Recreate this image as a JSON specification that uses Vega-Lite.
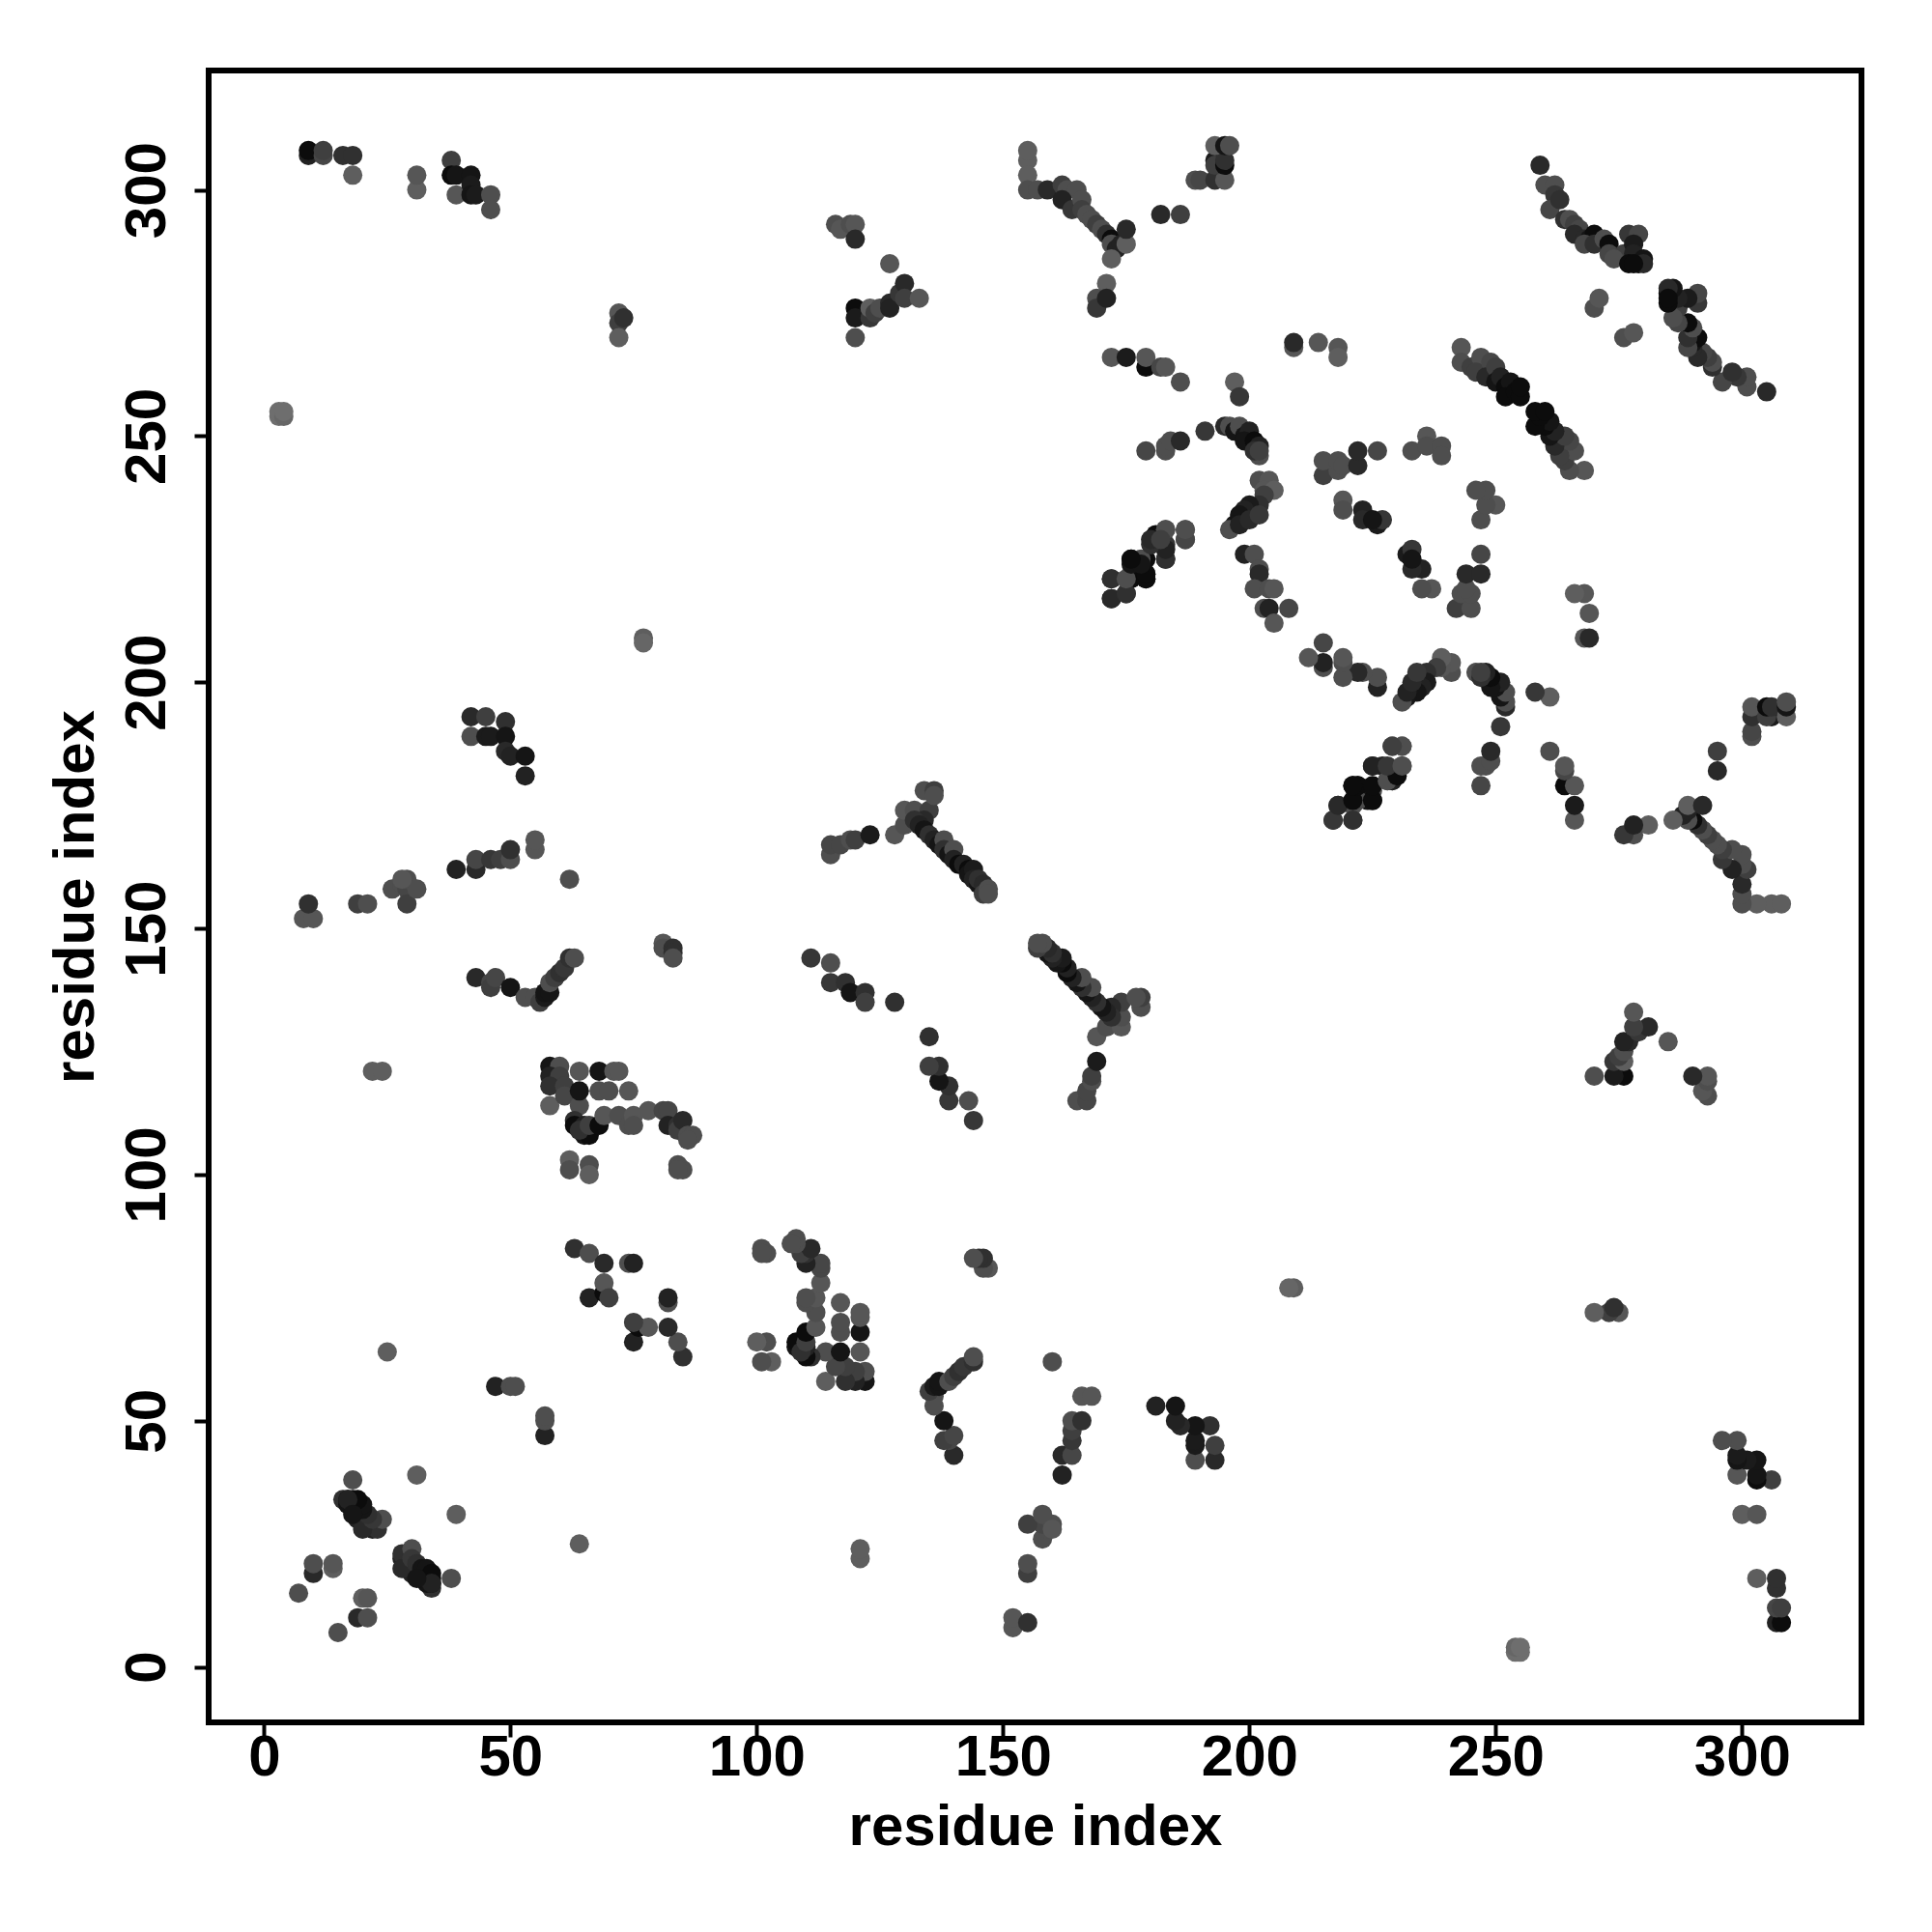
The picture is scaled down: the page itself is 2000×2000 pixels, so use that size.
{"$schema":"https://vega.github.io/schema/vega-lite/v6.json","autosize":{"type":"none"},"padding":{"left":216,"top":73,"right":73,"bottom":217},"width":1711,"height":1710,"background":"white","config":{"view":{"stroke":"black","strokeWidth":6,"fill":"white"}},
"data":{"values":[
{"x":3,"y":254,"w":70},{"x":3,"y":255,"w":70},{"x":4,"y":254,"w":65},{"x":4,"y":255,"w":70},
{"x":9,"y":307,"w":20},{"x":9,"y":308,"w":5},{"x":12,"y":307,"w":45},{"x":12,"y":308,"w":40},{"x":16,"y":307,"w":30},{"x":18,"y":307,"w":30},{"x":18,"y":303,"w":60},
{"x":31,"y":300,"w":60},{"x":31,"y":303,"w":55},{"x":38,"y":306,"w":40},{"x":38,"y":303,"w":5},{"x":39,"y":303,"w":10},{"x":39,"y":299,"w":55},{"x":42,"y":303,"w":10},{"x":42,"y":301,"w":15},{"x":42,"y":299,"w":10},{"x":43,"y":299,"w":15},{"x":46,"y":299,"w":50},{"x":46,"y":296,"w":50},
{"x":7,"y":15,"w":50},{"x":10,"y":19,"w":25},{"x":10,"y":21,"w":50},{"x":14,"y":20,"w":60},{"x":14,"y":21,"w":55},{"x":18,"y":38,"w":50},
{"x":16,"y":34,"w":30},{"x":17,"y":34,"w":5},{"x":18,"y":34,"w":5},{"x":17,"y":33,"w":10},{"x":18,"y":32,"w":10},{"x":19,"y":33,"w":5},{"x":18,"y":33,"w":10},{"x":19,"y":31,"w":10},{"x":20,"y":31,"w":15},{"x":20,"y":29,"w":20},{"x":21,"y":30,"w":10},{"x":22,"y":29,"w":30},{"x":22,"y":28,"w":20},{"x":23,"y":28,"w":30},{"x":24,"y":30,"w":50},{"x":19,"y":30,"w":20},{"x":20,"y":28,"w":25},{"x":22,"y":30,"w":35},{"x":21,"y":31,"w":30},{"x":20,"y":32,"w":10},{"x":20,"y":33,"w":10},{"x":19,"y":34,"w":5},{"x":17,"y":34,"w":20},{"x":18,"y":31,"w":10},
{"x":31,"y":39,"w":60},{"x":25,"y":64,"w":60},{"x":47,"y":57,"w":20},{"x":50,"y":57,"w":50},{"x":51,"y":57,"w":50},
{"x":63,"y":85,"w":30},{"x":66,"y":84,"w":50},{"x":69,"y":82,"w":25},{"x":74,"y":82,"w":50},{"x":75,"y":82,"w":20},{"x":66,"y":75,"w":20},{"x":69,"y":76,"w":5},{"x":69,"y":78,"w":55},{"x":70,"y":75,"w":40},
{"x":58,"y":122,"w":10},{"x":60,"y":122,"w":50},{"x":58,"y":120,"w":20},{"x":60,"y":120,"w":40},{"x":58,"y":118,"w":30},{"x":61,"y":118,"w":40},{"x":58,"y":114,"w":60},{"x":61,"y":116,"w":45},{"x":64,"y":114,"w":50},{"x":63,"y":111,"w":30},{"x":63,"y":110,"w":5},{"x":65,"y":110,"w":20},{"x":65,"y":108,"w":10},{"x":66,"y":108,"w":5},{"x":64,"y":109,"w":30},{"x":66,"y":110,"w":40},{"x":64,"y":121,"w":55},{"x":64,"y":117,"w":10},{"x":68,"y":121,"w":10},{"x":71,"y":121,"w":55},{"x":72,"y":121,"w":55},{"x":68,"y":117,"w":50},{"x":70,"y":117,"w":50},{"x":74,"y":117,"w":55},{"x":68,"y":110,"w":5},{"x":69,"y":112,"w":55},{"x":72,"y":112,"w":50},{"x":74,"y":110,"w":50},{"x":75,"y":112,"w":55},{"x":75,"y":110,"w":50},{"x":78,"y":113,"w":55},{"x":81,"y":113,"w":45},{"x":82,"y":113,"w":45},{"x":82,"y":110,"w":20},{"x":84,"y":110,"w":30},{"x":84,"y":109,"w":40},{"x":85,"y":111,"w":25},{"x":86,"y":108,"w":50},{"x":87,"y":108,"w":50},{"x":86,"y":107,"w":50},
{"x":62,"y":103,"w":60},{"x":62,"y":101,"w":50},{"x":66,"y":102,"w":50},{"x":66,"y":100,"w":60},{"x":84,"y":102,"w":50},{"x":85,"y":101,"w":50},{"x":84,"y":101,"w":50},
{"x":42,"y":193,"w":25},{"x":45,"y":193,"w":40},{"x":42,"y":189,"w":50},{"x":45,"y":189,"w":15},{"x":46,"y":189,"w":15},{"x":49,"y":192,"w":30},{"x":49,"y":189,"w":10},{"x":49,"y":186,"w":25},{"x":50,"y":185,"w":20},{"x":53,"y":185,"w":10},{"x":53,"y":181,"w":20},
{"x":39,"y":162,"w":20},{"x":43,"y":162,"w":25},{"x":43,"y":164,"w":45},{"x":46,"y":164,"w":35},{"x":48,"y":164,"w":40},{"x":50,"y":164,"w":50},{"x":50,"y":166,"w":30},{"x":55,"y":166,"w":55},{"x":55,"y":168,"w":55},{"x":62,"y":160,"w":50},
{"x":8,"y":152,"w":55},{"x":10,"y":152,"w":55},{"x":9,"y":155,"w":30},{"x":19,"y":155,"w":40},{"x":21,"y":155,"w":50},{"x":26,"y":158,"w":50},{"x":28,"y":159,"w":50},{"x":29,"y":158,"w":45},{"x":29,"y":155,"w":40},{"x":29,"y":160,"w":50},{"x":31,"y":158,"w":50},{"x":28,"y":160,"w":55},
{"x":43,"y":140,"w":25},{"x":46,"y":139,"w":45},{"x":46,"y":138,"w":40},{"x":47,"y":140,"w":45},{"x":50,"y":138,"w":10},{"x":53,"y":136,"w":50},{"x":55,"y":136,"w":50},{"x":56,"y":135,"w":40},{"x":57,"y":136,"w":15},{"x":57,"y":137,"w":10},{"x":58,"y":137,"w":10},{"x":58,"y":139,"w":50},{"x":59,"y":140,"w":40},{"x":60,"y":141,"w":30},{"x":61,"y":142,"w":35},{"x":62,"y":144,"w":30},{"x":63,"y":144,"w":50},
{"x":22,"y":121,"w":60},{"x":24,"y":121,"w":60},{"x":77,"y":209,"w":60},{"x":77,"y":208,"w":65},{"x":72,"y":275,"w":55},{"x":72,"y":273,"w":40},{"x":73,"y":274,"w":30},{"x":72,"y":270,"w":60},
{"x":81,"y":147,"w":55},{"x":81,"y":146,"w":50},{"x":83,"y":146,"w":30},{"x":83,"y":145,"w":30},{"x":83,"y":144,"w":50},
{"x":116,"y":293,"w":50},{"x":117,"y":292,"w":55},{"x":119,"y":293,"w":50},{"x":120,"y":293,"w":55},{"x":120,"y":290,"w":25},{"x":120,"y":276,"w":5},{"x":120,"y":274,"w":15},{"x":120,"y":270,"w":50},{"x":123,"y":274,"w":35},{"x":123,"y":276,"w":60},{"x":124,"y":275,"w":40},{"x":125,"y":276,"w":50},{"x":127,"y":277,"w":25},{"x":127,"y":285,"w":55},{"x":127,"y":276,"w":20},{"x":129,"y":279,"w":35},{"x":130,"y":281,"w":25},{"x":130,"y":278,"w":40},{"x":133,"y":278,"w":55},
{"x":115,"y":165,"w":50},{"x":115,"y":167,"w":45},{"x":117,"y":167,"w":45},{"x":119,"y":168,"w":50},{"x":120,"y":168,"w":40},{"x":123,"y":169,"w":15},{"x":128,"y":169,"w":55},{"x":130,"y":171,"w":50},{"x":130,"y":174,"w":55},{"x":132,"y":174,"w":50},{"x":134,"y":178,"w":50},{"x":135,"y":174,"w":40},{"x":136,"y":178,"w":40},{"x":134,"y":172,"w":25},{"x":136,"y":177,"w":50},
{"x":132,"y":172,"w":30},{"x":133,"y":171,"w":20},{"x":134,"y":170,"w":10},{"x":135,"y":169,"w":30},{"x":136,"y":168,"w":20},{"x":137,"y":167,"w":10},{"x":138,"y":168,"w":50},{"x":138,"y":166,"w":30},{"x":139,"y":165,"w":10},{"x":140,"y":166,"w":50},{"x":140,"y":164,"w":20},{"x":141,"y":163,"w":5},{"x":142,"y":163,"w":20},{"x":143,"y":162,"w":5},{"x":143,"y":161,"w":10},{"x":144,"y":162,"w":15},{"x":144,"y":160,"w":20},{"x":145,"y":159,"w":10},{"x":145,"y":160,"w":30},{"x":146,"y":159,"w":25},{"x":146,"y":157,"w":40},{"x":147,"y":158,"w":50},{"x":147,"y":157,"w":50},
{"x":111,"y":144,"w":35},{"x":115,"y":143,"w":50},{"x":115,"y":139,"w":35},{"x":118,"y":139,"w":30},{"x":119,"y":137,"w":10},{"x":122,"y":137,"w":30},{"x":122,"y":135,"w":40},{"x":128,"y":135,"w":30},
{"x":155,"y":306,"w":60},{"x":155,"y":308,"w":60},{"x":155,"y":303,"w":60},{"x":155,"y":300,"w":50},{"x":157,"y":300,"w":50},{"x":159,"y":300,"w":25},{"x":162,"y":301,"w":40},{"x":163,"y":300,"w":50},{"x":165,"y":300,"w":50},{"x":162,"y":298,"w":20},{"x":164,"y":296,"w":35},{"x":166,"y":298,"w":50},{"x":166,"y":296,"w":40},{"x":167,"y":295,"w":50},{"x":168,"y":294,"w":50},{"x":169,"y":293,"w":40},{"x":170,"y":292,"w":50},{"x":171,"y":291,"w":30},{"x":172,"y":290,"w":5},{"x":172,"y":289,"w":50},{"x":173,"y":288,"w":20},{"x":174,"y":289,"w":20},{"x":175,"y":289,"w":60},{"x":172,"y":286,"w":60},{"x":175,"y":292,"w":25},{"x":171,"y":281,"w":60},{"x":169,"y":278,"w":50},{"x":169,"y":276,"w":35},{"x":171,"y":278,"w":20},
{"x":182,"y":295,"w":25},{"x":186,"y":295,"w":40},{"x":189,"y":302,"w":50},{"x":190,"y":302,"w":45},{"x":193,"y":302,"w":30},{"x":195,"y":302,"w":55},{"x":193,"y":306,"w":15},{"x":193,"y":305,"w":40},{"x":195,"y":305,"w":5},{"x":195,"y":306,"w":30},{"x":193,"y":309,"w":60},{"x":195,"y":309,"w":10},{"x":196,"y":309,"w":50},
{"x":209,"y":268,"w":55},{"x":209,"y":269,"w":25},{"x":214,"y":269,"w":55},{"x":218,"y":268,"w":55},{"x":218,"y":266,"w":60},
{"x":172,"y":266,"w":55},{"x":175,"y":266,"w":15},{"x":179,"y":264,"w":5},{"x":179,"y":266,"w":55},{"x":182,"y":264,"w":45},{"x":183,"y":264,"w":55},{"x":186,"y":261,"w":50},{"x":197,"y":261,"w":60},{"x":198,"y":258,"w":35},
{"x":172,"y":221,"w":30},{"x":172,"y":217,"w":35},{"x":175,"y":218,"w":25},{"x":176,"y":222,"w":50},{"x":176,"y":225,"w":5},{"x":176,"y":221,"w":5},{"x":179,"y":222,"w":5},{"x":179,"y":221,"w":5},{"x":179,"y":225,"w":5},{"x":180,"y":229,"w":20},{"x":180,"y":228,"w":50},{"x":181,"y":230,"w":5},{"x":183,"y":225,"w":20},{"x":183,"y":228,"w":35},{"x":183,"y":231,"w":50},{"x":187,"y":231,"w":50},{"x":187,"y":229,"w":40},
{"x":179,"y":247,"w":45},{"x":183,"y":247,"w":50},{"x":183,"y":248,"w":50},{"x":184,"y":249,"w":50},{"x":186,"y":249,"w":25},{"x":191,"y":251,"w":35},
{"x":195,"y":252,"w":25},{"x":196,"y":252,"w":50},{"x":197,"y":251,"w":10},{"x":198,"y":252,"w":50},{"x":199,"y":250,"w":10},{"x":200,"y":251,"w":20},{"x":199,"y":249,"w":10},{"x":201,"y":249,"w":5},{"x":202,"y":248,"w":20},{"x":202,"y":246,"w":50},{"x":201,"y":247,"w":30},{"x":202,"y":247,"w":40},
{"x":202,"y":241,"w":50},{"x":204,"y":241,"w":55},{"x":203,"y":239,"w":55},{"x":205,"y":239,"w":60},{"x":203,"y":238,"w":40},{"x":202,"y":236,"w":30},{"x":200,"y":236,"w":15},{"x":199,"y":235,"w":20},{"x":198,"y":234,"w":10},{"x":197,"y":232,"w":10},{"x":196,"y":231,"w":50},{"x":198,"y":232,"w":20},{"x":200,"y":233,"w":25},{"x":202,"y":234,"w":35},
{"x":199,"y":226,"w":20},{"x":201,"y":226,"w":50},{"x":202,"y":223,"w":50},{"x":202,"y":222,"w":25},{"x":201,"y":219,"w":50},{"x":204,"y":219,"w":50},{"x":205,"y":219,"w":55},{"x":203,"y":215,"w":50},{"x":204,"y":215,"w":20},{"x":205,"y":212,"w":55},{"x":208,"y":215,"w":45},
{"x":215,"y":242,"w":40},{"x":215,"y":245,"w":50},{"x":218,"y":243,"w":50},{"x":218,"y":245,"w":50},{"x":219,"y":244,"w":50},{"x":222,"y":244,"w":25},{"x":222,"y":247,"w":25},{"x":226,"y":247,"w":45},
{"x":233,"y":247,"w":50},{"x":236,"y":250,"w":55},{"x":236,"y":248,"w":50},{"x":239,"y":248,"w":50},{"x":239,"y":246,"w":50},
{"x":219,"y":237,"w":55},{"x":219,"y":235,"w":50},{"x":223,"y":235,"w":20},{"x":223,"y":233,"w":25},{"x":226,"y":232,"w":15},{"x":227,"y":233,"w":35},{"x":225,"y":233,"w":10},
{"x":217,"y":172,"w":25},{"x":221,"y":172,"w":30},{"x":218,"y":175,"w":30},{"x":221,"y":179,"w":5},{"x":221,"y":175,"w":50},{"x":222,"y":179,"w":5},{"x":224,"y":176,"w":10},{"x":225,"y":178,"w":50},{"x":225,"y":183,"w":30},{"x":227,"y":183,"w":20},{"x":228,"y":180,"w":30},{"x":229,"y":180,"w":25},{"x":229,"y":187,"w":45},{"x":231,"y":187,"w":50},{"x":231,"y":183,"w":50},{"x":229,"y":182,"w":40},{"x":224,"y":178,"w":10},{"x":225,"y":176,"w":5},
{"x":243,"y":268,"w":55},{"x":243,"y":265,"w":50},{"x":245,"y":264,"w":40},{"x":247,"y":266,"w":50},{"x":246,"y":263,"w":40},{"x":249,"y":265,"w":45},{"x":248,"y":262,"w":25},{"x":250,"y":264,"w":40},{"x":250,"y":261,"w":10},{"x":251,"y":262,"w":20},{"x":252,"y":260,"w":5},{"x":253,"y":261,"w":10},{"x":252,"y":258,"w":5},{"x":254,"y":259,"w":5},{"x":255,"y":258,"w":5},{"x":255,"y":260,"w":5},
{"x":259,"y":305,"w":25},{"x":260,"y":301,"w":50},{"x":262,"y":301,"w":50},{"x":262,"y":299,"w":35},{"x":261,"y":296,"w":45},{"x":263,"y":298,"w":30},{"x":264,"y":294,"w":30},{"x":265,"y":294,"w":50},{"x":266,"y":293,"w":40},{"x":267,"y":292,"w":45},{"x":266,"y":291,"w":25},{"x":268,"y":290,"w":25},{"x":269,"y":290,"w":10},{"x":270,"y":291,"w":5},{"x":268,"y":289,"w":45},{"x":270,"y":289,"w":30},{"x":272,"y":290,"w":50},{"x":273,"y":289,"w":5},{"x":273,"y":287,"w":45},{"x":276,"y":287,"w":40},{"x":274,"y":286,"w":50},{"x":277,"y":291,"w":35},{"x":279,"y":291,"w":45},{"x":278,"y":289,"w":15},{"x":278,"y":287,"w":20},{"x":279,"y":285,"w":5},{"x":277,"y":285,"w":5},{"x":280,"y":286,"w":10},{"x":280,"y":285,"w":25},{"x":278,"y":285,"w":5},
{"x":270,"y":276,"w":50},{"x":271,"y":278,"w":55},
{"y":3,"x":254,"w":70},{"y":3,"x":255,"w":70},{"y":4,"x":254,"w":65},{"y":4,"x":255,"w":70},
{"y":9,"x":307,"w":20},{"y":9,"x":308,"w":5},{"y":12,"x":307,"w":45},{"y":12,"x":308,"w":40},{"y":16,"x":307,"w":30},{"y":18,"x":307,"w":30},{"y":18,"x":303,"w":60},
{"y":31,"x":300,"w":60},{"y":31,"x":303,"w":55},{"y":38,"x":306,"w":40},{"y":38,"x":303,"w":5},{"y":39,"x":303,"w":10},{"y":39,"x":299,"w":55},{"y":42,"x":303,"w":10},{"y":42,"x":301,"w":15},{"y":42,"x":299,"w":10},{"y":43,"x":299,"w":15},{"y":46,"x":299,"w":50},{"y":46,"x":296,"w":50},
{"y":7,"x":15,"w":50},{"y":10,"x":19,"w":25},{"y":10,"x":21,"w":50},{"y":14,"x":20,"w":60},{"y":14,"x":21,"w":55},{"y":18,"x":38,"w":50},
{"y":16,"x":34,"w":30},{"y":17,"x":34,"w":5},{"y":18,"x":34,"w":5},{"y":17,"x":33,"w":10},{"y":18,"x":32,"w":10},{"y":19,"x":33,"w":5},{"y":18,"x":33,"w":10},{"y":19,"x":31,"w":10},{"y":20,"x":31,"w":15},{"y":20,"x":29,"w":20},{"y":21,"x":30,"w":10},{"y":22,"x":29,"w":30},{"y":22,"x":28,"w":20},{"y":23,"x":28,"w":30},{"y":24,"x":30,"w":50},{"y":19,"x":30,"w":20},{"y":20,"x":28,"w":25},{"y":22,"x":30,"w":35},{"y":21,"x":31,"w":30},{"y":20,"x":32,"w":10},{"y":20,"x":33,"w":10},{"y":19,"x":34,"w":5},{"y":17,"x":34,"w":20},{"y":18,"x":31,"w":10},
{"y":31,"x":39,"w":60},{"y":25,"x":64,"w":60},{"y":47,"x":57,"w":20},{"y":50,"x":57,"w":50},{"y":51,"x":57,"w":50},
{"y":63,"x":85,"w":30},{"y":66,"x":84,"w":50},{"y":69,"x":82,"w":25},{"y":74,"x":82,"w":50},{"y":75,"x":82,"w":20},{"y":66,"x":75,"w":20},{"y":69,"x":76,"w":5},{"y":69,"x":78,"w":55},{"y":70,"x":75,"w":40},
{"y":58,"x":122,"w":10},{"y":60,"x":122,"w":50},{"y":58,"x":120,"w":20},{"y":60,"x":120,"w":40},{"y":58,"x":118,"w":30},{"y":61,"x":118,"w":40},{"y":58,"x":114,"w":60},{"y":61,"x":116,"w":45},{"y":64,"x":114,"w":50},{"y":63,"x":111,"w":30},{"y":63,"x":110,"w":5},{"y":65,"x":110,"w":20},{"y":65,"x":108,"w":10},{"y":66,"x":108,"w":5},{"y":64,"x":109,"w":30},{"y":66,"x":110,"w":40},{"y":64,"x":121,"w":55},{"y":64,"x":117,"w":10},{"y":68,"x":121,"w":10},{"y":71,"x":121,"w":55},{"y":72,"x":121,"w":55},{"y":68,"x":117,"w":50},{"y":70,"x":117,"w":50},{"y":74,"x":117,"w":55},{"y":68,"x":110,"w":5},{"y":69,"x":112,"w":55},{"y":72,"x":112,"w":50},{"y":74,"x":110,"w":50},{"y":75,"x":112,"w":55},{"y":75,"x":110,"w":50},{"y":78,"x":113,"w":55},{"y":81,"x":113,"w":45},{"y":82,"x":113,"w":45},{"y":82,"x":110,"w":20},{"y":84,"x":110,"w":30},{"y":84,"x":109,"w":40},{"y":85,"x":111,"w":25},{"y":86,"x":108,"w":50},{"y":87,"x":108,"w":50},{"y":86,"x":107,"w":50},
{"y":62,"x":103,"w":60},{"y":62,"x":101,"w":50},{"y":66,"x":102,"w":50},{"y":66,"x":100,"w":60},{"y":84,"x":102,"w":50},{"y":85,"x":101,"w":50},{"y":84,"x":101,"w":50},
{"y":42,"x":193,"w":25},{"y":45,"x":193,"w":40},{"y":42,"x":189,"w":50},{"y":45,"x":189,"w":15},{"y":46,"x":189,"w":15},{"y":49,"x":192,"w":30},{"y":49,"x":189,"w":10},{"y":49,"x":186,"w":25},{"y":50,"x":185,"w":20},{"y":53,"x":185,"w":10},{"y":53,"x":181,"w":20},
{"y":39,"x":162,"w":20},{"y":43,"x":162,"w":25},{"y":43,"x":164,"w":45},{"y":46,"x":164,"w":35},{"y":48,"x":164,"w":40},{"y":50,"x":164,"w":50},{"y":50,"x":166,"w":30},{"y":55,"x":166,"w":55},{"y":55,"x":168,"w":55},{"y":62,"x":160,"w":50},
{"y":8,"x":152,"w":55},{"y":10,"x":152,"w":55},{"y":9,"x":155,"w":30},{"y":19,"x":155,"w":40},{"y":21,"x":155,"w":50},{"y":26,"x":158,"w":50},{"y":28,"x":159,"w":50},{"y":29,"x":158,"w":45},{"y":29,"x":155,"w":40},{"y":29,"x":160,"w":50},{"y":31,"x":158,"w":50},{"y":28,"x":160,"w":55},
{"y":43,"x":140,"w":25},{"y":46,"x":139,"w":45},{"y":46,"x":138,"w":40},{"y":47,"x":140,"w":45},{"y":50,"x":138,"w":10},{"y":53,"x":136,"w":50},{"y":55,"x":136,"w":50},{"y":56,"x":135,"w":40},{"y":57,"x":136,"w":15},{"y":57,"x":137,"w":10},{"y":58,"x":137,"w":10},{"y":58,"x":139,"w":50},{"y":59,"x":140,"w":40},{"y":60,"x":141,"w":30},{"y":61,"x":142,"w":35},{"y":62,"x":144,"w":30},{"y":63,"x":144,"w":50},
{"y":22,"x":121,"w":60},{"y":24,"x":121,"w":60},{"y":77,"x":209,"w":60},{"y":77,"x":208,"w":65},{"y":72,"x":275,"w":55},{"y":72,"x":273,"w":40},{"y":73,"x":274,"w":30},{"y":72,"x":270,"w":60},
{"y":81,"x":147,"w":55},{"y":81,"x":146,"w":50},{"y":83,"x":146,"w":30},{"y":83,"x":145,"w":30},{"y":83,"x":144,"w":50},
{"y":116,"x":293,"w":50},{"y":117,"x":292,"w":55},{"y":119,"x":293,"w":50},{"y":120,"x":293,"w":55},{"y":120,"x":290,"w":25},{"y":120,"x":276,"w":5},{"y":120,"x":274,"w":15},{"y":120,"x":270,"w":50},{"y":123,"x":274,"w":35},{"y":123,"x":276,"w":60},{"y":124,"x":275,"w":40},{"y":125,"x":276,"w":50},{"y":127,"x":277,"w":25},{"y":127,"x":285,"w":55},{"y":127,"x":276,"w":20},{"y":129,"x":279,"w":35},{"y":130,"x":281,"w":25},{"y":130,"x":278,"w":40},{"y":133,"x":278,"w":55},
{"y":115,"x":165,"w":50},{"y":115,"x":167,"w":45},{"y":117,"x":167,"w":45},{"y":119,"x":168,"w":50},{"y":120,"x":168,"w":40},{"y":123,"x":169,"w":15},{"y":128,"x":169,"w":55},{"y":130,"x":171,"w":50},{"y":130,"x":174,"w":55},{"y":132,"x":174,"w":50},{"y":134,"x":178,"w":50},{"y":135,"x":174,"w":40},{"y":136,"x":178,"w":40},{"y":134,"x":172,"w":25},{"y":136,"x":177,"w":50},
{"y":132,"x":172,"w":30},{"y":133,"x":171,"w":20},{"y":134,"x":170,"w":10},{"y":135,"x":169,"w":30},{"y":136,"x":168,"w":20},{"y":137,"x":167,"w":10},{"y":138,"x":168,"w":50},{"y":138,"x":166,"w":30},{"y":139,"x":165,"w":10},{"y":140,"x":166,"w":50},{"y":140,"x":164,"w":20},{"y":141,"x":163,"w":5},{"y":142,"x":163,"w":20},{"y":143,"x":162,"w":5},{"y":143,"x":161,"w":10},{"y":144,"x":162,"w":15},{"y":144,"x":160,"w":20},{"y":145,"x":159,"w":10},{"y":145,"x":160,"w":30},{"y":146,"x":159,"w":25},{"y":146,"x":157,"w":40},{"y":147,"x":158,"w":50},{"y":147,"x":157,"w":50},
{"y":111,"x":144,"w":35},{"y":115,"x":143,"w":50},{"y":115,"x":139,"w":35},{"y":118,"x":139,"w":30},{"y":119,"x":137,"w":10},{"y":122,"x":137,"w":30},{"y":122,"x":135,"w":40},{"y":128,"x":135,"w":30},
{"y":155,"x":306,"w":60},{"y":155,"x":308,"w":60},{"y":155,"x":303,"w":60},{"y":155,"x":300,"w":50},{"y":157,"x":300,"w":50},{"y":159,"x":300,"w":25},{"y":162,"x":301,"w":40},{"y":163,"x":300,"w":50},{"y":165,"x":300,"w":50},{"y":162,"x":298,"w":20},{"y":164,"x":296,"w":35},{"y":166,"x":298,"w":50},{"y":166,"x":296,"w":40},{"y":167,"x":295,"w":50},{"y":168,"x":294,"w":50},{"y":169,"x":293,"w":40},{"y":170,"x":292,"w":50},{"y":171,"x":291,"w":30},{"y":172,"x":290,"w":5},{"y":172,"x":289,"w":50},{"y":173,"x":288,"w":20},{"y":174,"x":289,"w":20},{"y":175,"x":289,"w":60},{"y":172,"x":286,"w":60},{"y":175,"x":292,"w":25},{"y":171,"x":281,"w":60},{"y":169,"x":278,"w":50},{"y":169,"x":276,"w":35},{"y":171,"x":278,"w":20},
{"y":182,"x":295,"w":25},{"y":186,"x":295,"w":40},{"y":189,"x":302,"w":50},{"y":190,"x":302,"w":45},{"y":193,"x":302,"w":30},{"y":195,"x":302,"w":55},{"y":193,"x":306,"w":15},{"y":193,"x":305,"w":40},{"y":195,"x":305,"w":5},{"y":195,"x":306,"w":30},{"y":193,"x":309,"w":60},{"y":195,"x":309,"w":10},{"y":196,"x":309,"w":50},
{"y":209,"x":268,"w":55},{"y":209,"x":269,"w":25},{"y":214,"x":269,"w":55},{"y":218,"x":268,"w":55},{"y":218,"x":266,"w":60},
{"y":172,"x":266,"w":55},{"y":175,"x":266,"w":15},{"y":179,"x":264,"w":5},{"y":179,"x":266,"w":55},{"y":182,"x":264,"w":45},{"y":183,"x":264,"w":55},{"y":186,"x":261,"w":50},{"y":197,"x":261,"w":60},{"y":198,"x":258,"w":35},
{"y":172,"x":221,"w":30},{"y":172,"x":217,"w":35},{"y":175,"x":218,"w":25},{"y":176,"x":222,"w":50},{"y":176,"x":225,"w":5},{"y":176,"x":221,"w":5},{"y":179,"x":222,"w":5},{"y":179,"x":221,"w":5},{"y":179,"x":225,"w":5},{"y":180,"x":229,"w":20},{"y":180,"x":228,"w":50},{"y":181,"x":230,"w":5},{"y":183,"x":225,"w":20},{"y":183,"x":228,"w":35},{"y":183,"x":231,"w":50},{"y":187,"x":231,"w":50},{"y":187,"x":229,"w":40},
{"y":179,"x":247,"w":45},{"y":183,"x":247,"w":50},{"y":183,"x":248,"w":50},{"y":184,"x":249,"w":50},{"y":186,"x":249,"w":25},{"y":191,"x":251,"w":35},
{"y":195,"x":252,"w":25},{"y":196,"x":252,"w":50},{"y":197,"x":251,"w":10},{"y":198,"x":252,"w":50},{"y":199,"x":250,"w":10},{"y":200,"x":251,"w":20},{"y":199,"x":249,"w":10},{"y":201,"x":249,"w":5},{"y":202,"x":248,"w":20},{"y":202,"x":246,"w":50},{"y":201,"x":247,"w":30},{"y":202,"x":247,"w":40},
{"y":202,"x":241,"w":50},{"y":204,"x":241,"w":55},{"y":203,"x":239,"w":55},{"y":205,"x":239,"w":60},{"y":203,"x":238,"w":40},{"y":202,"x":236,"w":30},{"y":200,"x":236,"w":15},{"y":199,"x":235,"w":20},{"y":198,"x":234,"w":10},{"y":197,"x":232,"w":10},{"y":196,"x":231,"w":50},{"y":198,"x":232,"w":20},{"y":200,"x":233,"w":25},{"y":202,"x":234,"w":35},
{"y":199,"x":226,"w":20},{"y":201,"x":226,"w":50},{"y":202,"x":223,"w":50},{"y":202,"x":222,"w":25},{"y":201,"x":219,"w":50},{"y":204,"x":219,"w":50},{"y":205,"x":219,"w":55},{"y":203,"x":215,"w":50},{"y":204,"x":215,"w":20},{"y":205,"x":212,"w":55},{"y":208,"x":215,"w":45},
{"y":215,"x":242,"w":40},{"y":215,"x":245,"w":50},{"y":218,"x":243,"w":50},{"y":218,"x":245,"w":50},{"y":219,"x":244,"w":50},{"y":222,"x":244,"w":25},{"y":222,"x":247,"w":25},{"y":226,"x":247,"w":45},
{"y":233,"x":247,"w":50},{"y":236,"x":250,"w":55},{"y":236,"x":248,"w":50},{"y":239,"x":248,"w":50},{"y":239,"x":246,"w":50},
{"y":219,"x":237,"w":55},{"y":219,"x":235,"w":50},{"y":223,"x":235,"w":20},{"y":223,"x":233,"w":25},{"y":226,"x":232,"w":15},{"y":227,"x":233,"w":35},{"y":225,"x":233,"w":10},
{"y":217,"x":172,"w":25},{"y":221,"x":172,"w":30},{"y":218,"x":175,"w":30},{"y":221,"x":179,"w":5},{"y":221,"x":175,"w":50},{"y":222,"x":179,"w":5},{"y":224,"x":176,"w":10},{"y":225,"x":178,"w":50},{"y":225,"x":183,"w":30},{"y":227,"x":183,"w":20},{"y":228,"x":180,"w":30},{"y":229,"x":180,"w":25},{"y":229,"x":187,"w":45},{"y":231,"x":187,"w":50},{"y":231,"x":183,"w":50},{"y":229,"x":182,"w":40},{"y":224,"x":178,"w":10},{"y":225,"x":176,"w":5},
{"y":243,"x":268,"w":55},{"y":243,"x":265,"w":50},{"y":245,"x":264,"w":40},{"y":247,"x":266,"w":50},{"y":246,"x":263,"w":40},{"y":249,"x":265,"w":45},{"y":248,"x":262,"w":25},{"y":250,"x":264,"w":40},{"y":250,"x":261,"w":10},{"y":251,"x":262,"w":20},{"y":252,"x":260,"w":5},{"y":253,"x":261,"w":10},{"y":252,"x":258,"w":5},{"y":254,"x":259,"w":5},{"y":255,"x":258,"w":5},{"y":255,"x":260,"w":5},
{"y":259,"x":305,"w":25},{"y":260,"x":301,"w":50},{"y":262,"x":301,"w":50},{"y":262,"x":299,"w":35},{"y":261,"x":296,"w":45},{"y":263,"x":298,"w":30},{"y":264,"x":294,"w":30},{"y":265,"x":294,"w":50},{"y":266,"x":293,"w":40},{"y":267,"x":292,"w":45},{"y":266,"x":291,"w":25},{"y":268,"x":290,"w":25},{"y":269,"x":290,"w":10},{"y":270,"x":291,"w":5},{"y":268,"x":289,"w":45},{"y":270,"x":289,"w":30},{"y":272,"x":290,"w":50},{"y":273,"x":289,"w":5},{"y":273,"x":287,"w":45},{"y":276,"x":287,"w":40},{"y":274,"x":286,"w":50},{"y":277,"x":291,"w":35},{"y":279,"x":291,"w":45},{"y":278,"x":289,"w":15},{"y":278,"x":287,"w":20},{"y":279,"x":285,"w":5},{"y":277,"x":285,"w":5},{"y":280,"x":286,"w":10},{"y":280,"x":285,"w":25},{"y":278,"x":285,"w":5},
{"y":270,"x":276,"w":50},{"y":271,"x":278,"w":55}
]},
"mark":{"type":"point","filled":true,"shape":"circle","size":400,"opacity":1,"strokeWidth":0},
"encoding":{
"x":{"field":"x","type":"quantitative","scale":{"domain":[-11.25,324.25],"nice":false,"zero":false},"axis":{"values":[0,50,100,150,200,250,300],"title":"residue index","grid":false,"domain":false,"ticks":true,"tickColor":"black","tickWidth":4,"tickSize":15,"labelFont":"Liberation Sans","labelFontWeight":"bold","labelFontSize":60,"labelColor":"black","labelPadding":-8,"labelFlush":false,"titleFont":"Liberation Sans","titleFontWeight":"bold","titleFontSize":60,"titleColor":"black","titlePadding":13}},
"y":{"field":"y","type":"quantitative","scale":{"domain":[-11.25,324.25],"nice":false,"zero":false},"axis":{"values":[0,50,100,150,200,250,300],"title":"residue index","grid":false,"domain":false,"ticks":true,"tickColor":"black","tickWidth":4,"tickSize":15,"labelFont":"Liberation Sans","labelFontWeight":"bold","labelFontSize":60,"labelColor":"black","labelAngle":270,"labelAlign":"center","labelBaseline":"bottom","labelPadding":18,"labelFlush":false,"titleFont":"Liberation Sans","titleFontWeight":"bold","titleFontSize":60,"titleColor":"black","titlePadding":13}},
"color":{"field":"w","type":"quantitative","legend":null,"scale":{"domain":[0,70],"range":["#000000","#6e6e6e"]}}
}}
